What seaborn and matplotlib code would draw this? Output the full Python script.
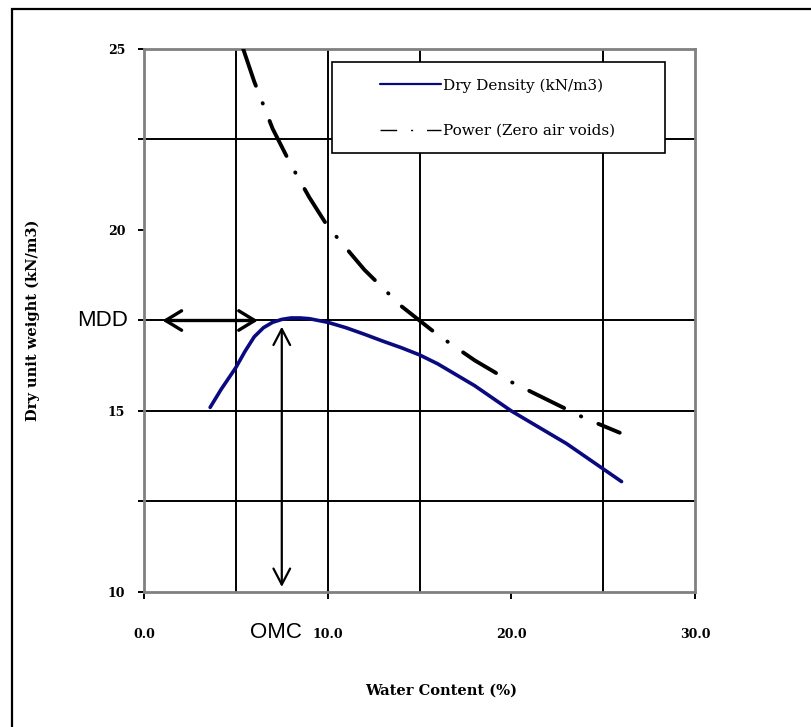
import pandas as pd
import seaborn as sns
import matplotlib.pyplot as plt
from matplotlib.lines import Line2D
from matplotlib.patches import Rectangle

# compaction curve
water_content = [3.6, 4.2, 5.0, 5.5, 6.0, 6.5, 7.0, 7.5, 8.0, 8.5, 9.0, 10.0, 11.0,
                 12.0, 13.0, 14.0, 15.0, 16.0, 17.0, 18.0, 19.0, 20.0, 21.0, 22.0,
                 23.0, 24.0, 25.0, 26.0]
dry_density = [15.1, 15.6, 16.2, 16.65, 17.05, 17.3, 17.45, 17.53, 17.57, 17.57,
               17.55, 17.45, 17.3, 17.12, 16.93, 16.75, 16.55, 16.3, 16.0, 15.7,
               15.35, 15.0, 14.7, 14.4, 14.1, 13.75, 13.4, 13.05]

# zero air voids (power trendline)
zav_water = [5.4, 6.0, 7.0, 8.0, 9.0, 10.0, 12.0, 14.0, 16.0, 18.0, 20.0, 22.0, 24.0, 25.9]
zav_density = [25.0, 24.1, 22.8, 21.8, 20.9, 20.1, 18.9, 17.9, 17.1, 16.4, 15.8,
               15.3, 14.8, 14.4]

mdd = 17.5
omc = 7.5

x_ticks = [0, 10, 20, 30]
x_tick_labels = ["0.0", "10.0", "20.0", "30.0"]
y_ticks = [10, 12.5, 15, 17.5, 20, 22.5, 25]
y_tick_labels = ["10", "", "15", "", "20", "", "25"]
v_grid = [5, 10, 15, 25]
h_grid = [12.5, 15, 17.5, 22.5]

df_dry = pd.DataFrame({"w": water_content, "gd": dry_density})
df_zav = pd.DataFrame({"w": zav_water, "gd": zav_density})

sns.set_style("white")
plt.rcParams["font.family"] = ["DejaVu Serif", "DejaVu Sans"]
plt.rcParams["text.color"] = "black"
plt.rcParams["axes.labelcolor"] = "black"
plt.rcParams["xtick.color"] = "black"
plt.rcParams["ytick.color"] = "black"

fig = plt.figure(figsize=(8.11, 7.27), dpi=100)
ax = fig.add_axes([0.1776, 0.1857, 0.6794, 0.7469])

for x in v_grid:
    ax.axvline(x, color="black", lw=1.4, zorder=1)
for y in h_grid:
    ax.axhline(y, color="black", lw=1.4, zorder=1)

sns.lineplot(data=df_dry, x="w", y="gd", ax=ax, color="#0a0a80", lw=2.6,
             sort=False, zorder=3)
sns.lineplot(data=df_zav, x="w", y="gd", ax=ax, color="black", lw=2.8,
             sort=False, zorder=3)
zav_line = ax.get_lines()[-1]
zav_line.set_dashes((10, 4.8, 0.1, 4.8))
zav_line.set_dash_capstyle("round")

# MDD / OMC arrows
ax.annotate("", xy=(1.0, mdd), xytext=(6.2, mdd),
            arrowprops=dict(arrowstyle="<->, head_length=1.15, head_width=0.7",
                            color="black", lw=2.4, shrinkA=0, shrinkB=0), zorder=4)
ax.annotate("", xy=(omc, 17.33), xytext=(omc, 10.14),
            arrowprops=dict(arrowstyle="<->, head_length=1.15, head_width=0.6",
                            color="black", lw=1.6, shrinkA=0, shrinkB=0), zorder=4)
ax.text(-0.075, mdd, "MDD", transform=ax.get_yaxis_transform(), ha="center",
        va="center", fontsize=16, family="Liberation Sans")
ax.text(7.2, -0.074, "OMC", transform=ax.get_xaxis_transform(), ha="center",
        va="center", fontsize=16, family="Liberation Sans")

ax.set_xlim(0, 30)
ax.set_ylim(10, 25)
ax.set_xticks(x_ticks, labels=x_tick_labels)
ax.set_yticks(y_ticks, labels=y_tick_labels)
ax.tick_params(axis="x", direction="out", length=5, width=1.4, color="black",
               pad=21, labelsize=9, bottom=True)
ax.tick_params(axis="y", direction="out", length=4.5, width=1.4, color="black",
               pad=9, labelsize=9, left=True)
for lab in ax.get_xticklabels() + ax.get_yticklabels():
    lab.set_fontweight("bold")

for side in ["left", "right", "top", "bottom"]:
    ax.spines[side].set_visible(True)
    ax.spines[side].set_color("#808080")
    ax.spines[side].set_linewidth(2)

ax.set_xlabel("Water Content (%)", fontsize=10.5, fontweight="bold")
ax.set_ylabel("Dry unit weight (kN/m3)", fontsize=10.5, fontweight="bold")
ax.xaxis.set_label_coords(0.539, -0.169)
ax.yaxis.set_label_coords(-0.189, 0.5)

# legend box
ax.add_patch(Rectangle((0.341, 0.808), 0.6045, 0.1685, transform=ax.transAxes,
                       facecolor="white", edgecolor="black", lw=1.2, zorder=5))
handles = [
    Line2D([], [], color="#0a0a80", lw=1.6),
    Line2D([], [], color="black", lw=1.0, dashes=(12, 10, 1.5, 10)),
]
ax.legend(handles, ["Dry Density (kN/m3)", "Power (Zero air voids)"],
          loc="upper left", bbox_to_anchor=(0.428, 0.946), frameon=False,
          borderpad=0, borderaxespad=0, handlelength=4.0, handletextpad=0.15,
          labelspacing=2.05, fontsize=11).set_zorder(6)

# outer frame of the picture (right and bottom are cut off)
fig.add_artist(Rectangle((12 / 811, -0.1), 1.2, 1.0876, transform=fig.transFigure,
                         facecolor="none", edgecolor="black", lw=1.6))

fig.savefig("out.png", dpi=100)
